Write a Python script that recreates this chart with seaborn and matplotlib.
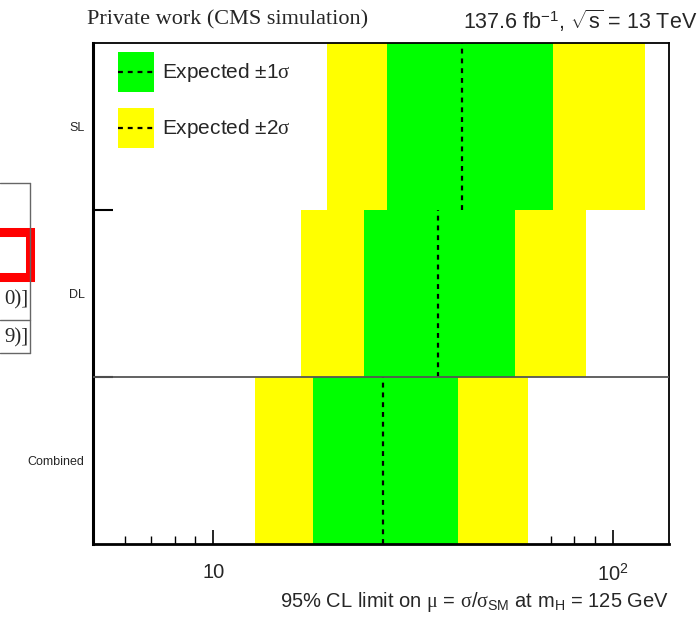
import matplotlib
matplotlib.use("Agg")
import matplotlib.pyplot as plt
import seaborn as sns
import pandas as pd
import numpy as np
from matplotlib.patches import Rectangle
from matplotlib.lines import Line2D
from matplotlib.legend_handler import HandlerBase
from matplotlib.ticker import FixedLocator, NullFormatter, FixedFormatter, LogLocator

# ---- data -------------------------------------------------------------
categories = ["Combined", "DL", "SL"]
lo2 = [12.7, 16.6, 19.3]
lo1 = [17.8, 23.8, 27.2]
median = [26.5, 36.4, 42.0]
hi1 = [41.0, 57.0, 70.6]
hi2 = [61.3, 85.8, 120.4]
xticks = [10, 100]
xticklabels = ["10", "$10^{2}$"]

df = pd.DataFrame({"channel": categories, "lo2": lo2, "lo1": lo1,
                   "median": median, "hi1": hi1, "hi2": hi2})
df["ypos"] = np.arange(len(df)) + 0.5

# ---- style ------------------------------------------------------------
sns.set_theme(style="white")
plt.rcParams["font.family"] = ["Liberation Sans", "DejaVu Sans"]
plt.rcParams["mathtext.fontset"] = "custom"
plt.rcParams["mathtext.rm"] = "Liberation Sans"
plt.rcParams["mathtext.it"] = "Liberation Serif"   # Greek letters drawn in a Symbol-like serif
plt.rcParams["mathtext.bf"] = "Liberation Sans:bold"

W, H = 698, 625
fig = plt.figure(figsize=(W / 100, H / 100), dpi=100)
fig.patch.set_facecolor("white")
L, R, T, B = 93, 669, 43, 544
ax = fig.add_axes([L / W, 1 - B / H, (R - L) / W, (B - T) / H])
ax.set_facecolor("white")

GREEN = "#00ff00"
YELLOW = "#ffff00"

ax.barh(df["ypos"], df["hi2"] - df["lo2"], left=df["lo2"], height=1.0,
        color=YELLOW, linewidth=0, zorder=1)
ax.barh(df["ypos"], df["hi1"] - df["lo1"], left=df["lo1"], height=1.0,
        color=GREEN, linewidth=0, zorder=2)
ax.vlines(df["median"], df["ypos"] - 0.5, df["ypos"] + 0.5, colors="black",
          linewidth=1.6, linestyles=(0, (2.2, 2.2)), zorder=3)

ax.axhline(1.0, color="#555555", linewidth=1.3, zorder=4)

ax.set_xscale("log")
ax.set_xlim(5, 138)
ax.set_ylim(0, 3)

ax.xaxis.set_major_locator(FixedLocator(xticks))
ax.xaxis.set_major_formatter(FixedFormatter(xticklabels))
ax.xaxis.set_minor_locator(LogLocator(base=10, subs=np.arange(2, 10)))
ax.xaxis.set_minor_formatter(NullFormatter())
ax.tick_params(axis="x", which="major", direction="in", length=10, width=1.2,
               labelsize=14.5, pad=14, bottom=True, top=False, color="black")
ax.tick_params(axis="x", which="minor", direction="in", length=6, width=1.0,
               bottom=True, top=False, color="black")

ax.yaxis.set_major_locator(FixedLocator([1, 2]))
ax.yaxis.set_major_formatter(NullFormatter())
ax.yaxis.set_minor_locator(FixedLocator(list(df["ypos"])))
ax.yaxis.set_minor_formatter(FixedFormatter(categories))
ax.tick_params(axis="y", which="major", direction="in", length=14.5, width=1.5,
               left=True, right=False, color="black")
ax.tick_params(axis="y", which="minor", length=0, labelsize=9, pad=6,
               left=True, right=False)

for side, lw in {"left": 2.2, "bottom": 2.0, "top": 1.3, "right": 1.3}.items():
    ax.spines[side].set_visible(True)
    ax.spines[side].set_color("black")
    ax.spines[side].set_linewidth(lw)

ax.set_xlabel(r"95% CL limit on $\mu$ = $\sigma$/$\sigma_{\mathrm{SM}}$ at m$_{\mathrm{H}}$ = 125 GeV",
              fontsize=14.5, loc="right", labelpad=4)
ax.set_ylabel("")


# ---- legend: filled box with dashed median line -----------------------
class BoxDashHandler(HandlerBase):
    def __init__(self, color):
        super().__init__()
        self.color = color

    def create_artists(self, legend, orig_handle, xdescent, ydescent,
                       width, height, fontsize, trans):
        rect = Rectangle((-xdescent, -ydescent), width, height,
                         facecolor=self.color, edgecolor="none", transform=trans)
        yc = -ydescent + height / 2
        line = Line2D([-xdescent, -xdescent + width], [yc, yc], color="black",
                      linewidth=1.6, linestyle=(0, (2.2, 2.2)), transform=trans)
        return [rect, line]


h1 = Rectangle((0, 0), 1, 1, facecolor=GREEN)
h2 = Rectangle((0, 0), 1, 1, facecolor=YELLOW)
LFS = 15
fs_px = LFS * 100 / 72
hh = (40 / fs_px - 0.245) / 0.65
leg = ax.legend([h1, h2], [r"Expected ±1$\sigma$", r"Expected ±2$\sigma$"],
                handler_map={h1: BoxDashHandler(GREEN), h2: BoxDashHandler(YELLOW)},
                loc="upper left", bbox_to_anchor=((118 - L) / (R - L), 1 - (52 - T) / (B - T)),
                frameon=False, fontsize=LFS, borderpad=0, borderaxespad=0,
                handlelength=36 / fs_px, handleheight=hh, labelspacing=16 / fs_px,
                handletextpad=8 / fs_px)

# ---- header texts -----------------------------------------------------
fig.text(87 / W, 1 - 20 / H, "Private work (CMS simulation)", ha="left", va="center",
         fontsize=16, family=["Liberation Serif", "DejaVu Serif"])
fig.text(697 / W, 1 - 21 / H, r"137.6 fb$^{-1}$, $\sqrt{\mathrm{s}}$ = 13 TeV", ha="right",
         va="center", fontsize=15.5)

# ---- clipped table fragment at the left edge --------------------------
def fx(x):
    return x / W

def fy(y):
    return 1 - y / H

gray = "#666666"
fig.add_artist(Line2D([fx(0), fx(30)], [fy(183), fy(183)], color=gray, lw=1.0))
fig.add_artist(Line2D([fx(30), fx(30)], [fy(183), fy(353)], color=gray, lw=1.0))
fig.add_artist(Line2D([fx(0), fx(30)], [fy(320), fy(320)], color=gray, lw=1.0))
fig.add_artist(Line2D([fx(0), fx(30)], [fy(353), fy(353)], color=gray, lw=1.0))
fig.add_artist(Rectangle((fx(-20), fy(277.5)), fx(50.5), fy(232.5) - fy(277.5),
                         facecolor="none", edgecolor="#ff0000", linewidth=6.5,
                         transform=fig.transFigure))
fig.text(fx(28), fy(300), "0)]", ha="right", va="center", fontsize=15,
         family=["Liberation Serif", "DejaVu Serif"])
fig.text(fx(28), fy(338), "9)]", ha="right", va="center", fontsize=15,
         family=["Liberation Serif", "DejaVu Serif"])

fig.savefig("out.png", dpi=100, facecolor="white")
